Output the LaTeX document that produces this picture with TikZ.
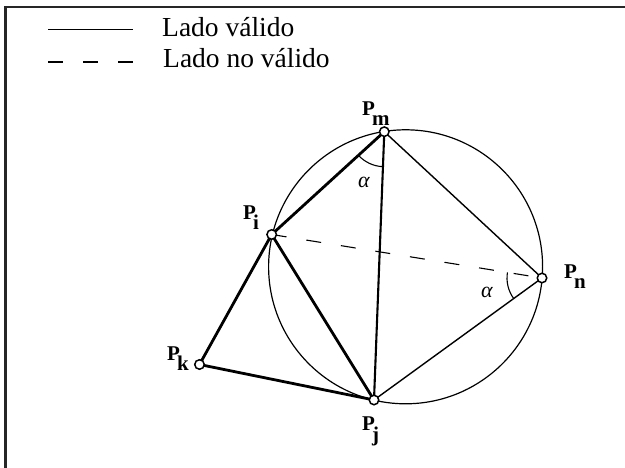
\documentclass[tikz,border=0pt]{standalone}
\usepackage{fontspec}
\setmainfont{Liberation Serif}
\usetikzlibrary{calc}
\newcommand{\plbl}[1]{\fontsize{21}{21}\selectfont\bfseries P\kern-3pt\raisebox{-10pt}{#1}}
\tikzset{
  thickedge/.style={line width=2.8pt},
  medge/.style={line width=2.1pt},
  thinedge/.style={line width=1.4pt},
  invalid/.style={line width=1.1pt, dash pattern=on 15pt off 20pt},
  pt/.style={circle, draw, line width=1.5pt, fill=white, minimum size=9.5pt, inner sep=0pt},
  lbl/.style={anchor=base west, inner sep=0pt},
  legtext/.style={anchor=base west, inner sep=0pt, font=\fontsize{27.5}{28}\selectfont},
  frameline/.style={line width=2.3pt, black!85},
  anglearc/.style={line width=1.1pt},
  alphalbl/.style={inner sep=0pt, font=\fontsize{22}{22}\selectfont\itshape}
}
\begin{document}
\begin{tikzpicture}[x=1pt,y=-1pt]
\useasboundingbox (0,0) rectangle (625,468);
% frame
\draw[frameline] (625,7.3) -- (5.5,7.3) -- (5.5,468);
% legend
\coordinate (s1) at (48,29.5); \coordinate (s2) at (133,29.5);
\coordinate (d1) at (48,62); \coordinate (d2) at (133,62);
\draw[line width=1.7pt] (s1) -- (s2);
\draw[line width=1.7pt, dash pattern=on 15pt off 20pt] (d1) -- (d2);
\node[legtext] (l1) at (162,37) {Lado válido};
\node[legtext] (l2) at (163,68) {Lado no válido};
% circle
\coordinate (c) at (405.6,266.8);
\draw[line width=1.2pt] (c) circle[radius=137];
% points
\coordinate (m) at (384.3,131.7);
\coordinate (i) at (271.7,234.5);
\coordinate (n) at (542,278);
\coordinate (j) at (374,400);
\coordinate (k) at (199.5,364.5);
% edges
\draw[invalid] (i) -- (n);
\draw[thickedge] (m) -- (i);
\draw[thickedge] (i) -- (k);
\draw[thickedge] (i) -- (j);
\draw[thickedge] (k) -- (j);
\draw[medge] (m) -- (j);
\draw[thinedge] (m) -- (n);
\draw[thinedge] (n) -- (j);
% angle arcs
\draw[anglearc] ($(m)!35pt!(i)$) arc[start angle=-137.6, delta angle=45.4, radius=35pt];
\draw[anglearc] ($(n)!35pt!(i)$) arc[start angle=170.9, delta angle=45.1, radius=35pt];
\node[alphalbl] (a1) at (364,182) {α};
\node[alphalbl] (a2) at (487,292) {α};
% point markers
\node[pt] (pm) at (m) {};
\node[pt] (pi) at (i) {};
\node[pt] (pn) at (n) {};
\node[pt] (pj) at (j) {};
\node[pt] (pk) at (k) {};
% labels
\node[lbl] (Lm) at (362,116) {\plbl{m}};
\node[lbl] (Li) at (243,220) {\plbl{i}};
\node[lbl] (Ln) at (564,279) {\plbl{n}};
\node[lbl] (Lk) at (167,360) {\plbl{k}};
\node[lbl] (Lj) at (362,431) {\plbl{j}};
\end{tikzpicture}
\end{document}
